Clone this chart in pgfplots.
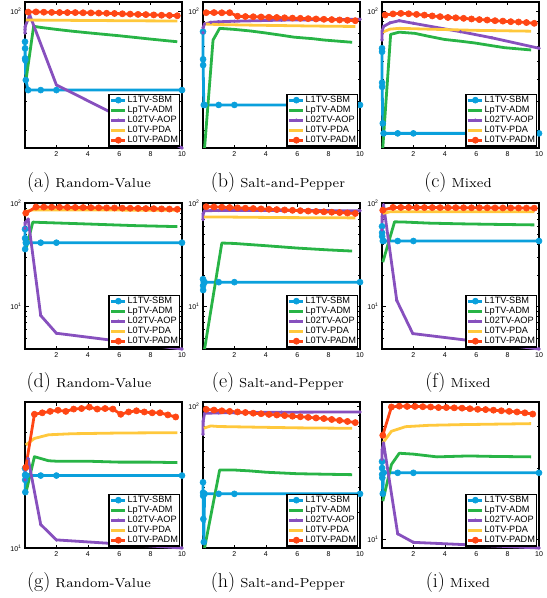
\documentclass[border=0pt]{standalone}
\usepackage{fontspec}
\usepackage{pgfplots}
\pgfplotsset{compat=1.18}
\newfontfamily\hv{Liberation Sans}
\newfontfamily\capfont{lmroman7-regular}[Extension=.otf]
\definecolor{cb}{RGB}{10,160,220}
\definecolor{cg}{RGB}{40,180,70}
\definecolor{cp}{RGB}{135,80,190}
\definecolor{cy}{RGB}{255,200,60}
\definecolor{cr}{RGB}{255,70,20}
\pgfplotsset{
  width=157pt, height=146pt, scale only axis,
  xmin=0, xmax=10, xtick={2,4,6,8,10},
  tick align=inside,
  major tick length=3.5pt, minor tick length=2pt,
  axis line style={line width=1.2pt},
  every tick/.style={black, line width=0.6pt},
  tick label style={font=\hv\fontsize{7}{8}\selectfont},
  clip=false,
  legend cell align=left,
  legend style={at={(0.99,0.01)}, anchor=south east, draw=black, line width=1.2pt,
    font=\hv\fontsize{9.2}{10}\selectfont, inner sep=1pt, row sep=0.5pt,
    nodes={inner sep=0.8pt}},
  legend image code/.code={\draw[mark repeat=2,mark phase=2] plot coordinates {(0pt,0pt) (7pt,0pt) (14pt,0pt)};},
  /pgf/number format/assume math mode=true,
}
\pgfplotsset{
  sbm/.style={color=cb, line width=2.8pt, line join=round, mark=*, mark size=3pt, mark options={line width=0.6pt}},
  adm/.style={color=cg, line width=2.8pt, line join=round, no markers},
  aop/.style={color=cp, line width=2.8pt, line join=round, mark=*, mark size=1.4pt, mark options={line width=0.6pt}},
  pda/.style={color=cy, line width=2.8pt, line join=round, no markers},
  padm/.style={color=cr, line width=2.8pt, line join=round, mark=*, mark size=3.1pt, mark options={line width=0.6pt}},
}
\newcommand{\subcap}[2]{{\fontsize{20}{22}\selectfont(#1)}\hspace{5pt}{\capfont\fontsize{13}{14}\selectfont #2}}
\newcommand{\legtxt}{\legend{L1TV-SBM,LpTV-ADM,L02TV-AOP,L0TV-PDA,L0TV-PADM}}
\begin{document}
\begin{tikzpicture}
\path[use as bounding box] (0,0) rectangle (547pt,-598pt);

% (a) Random-Value
\begin{axis}[ymode=log, log basis y=10, ytick={10,100}, minor ytick={2,3,4,5,6,7,8,9,20,30,40,50,60,70,80,90},
  yticklabel={10\textsuperscript{\pgfmathprintnumber[fixed,precision=0]{\tick}}},
  at={(25pt,-2pt)}, anchor=north west, ymin=25, ymax=110]
\addplot[sbm] coordinates {(0.001,73.5) (0.005,68.7) (0.01,62.1) (0.02,61) (0.05,49.8) (0.2,45) (1,45) (2,45) (10,45)};
\addplot[adm] coordinates {(0.05,49) (0.55,86) (1,85) (2,83.3) (3,81.8) (4,80.5) (5,79.3) (6,78.1) (7,76.8) (8,75.5) (9,74.3) (9.7,73.5)};
\addplot[aop] coordinates {(0.001,80.3) (0.005,83) (0.01,85.7) (0.3,96.4) (2,47.4) (10,25)};
\addplot[pda] coordinates {(0.05,91.6) (1,91.5) (3,91.3) (5,91.1) (7,90.9) (9.7,90.7)};
\addplot[padm] coordinates {(0.2,99.3) (0.7,99.5) (1.2,99.2) (1.7,99.0) (2.2,98.9) (2.7,98.8) (3.2,98.8) (3.7,98.6) (4.2,98.5) (4.7,98.3) (5.2,98.1) (5.7,97.9) (6.2,97.6) (6.7,97.3) (7.2,97.0) (7.7,96.8) (8.2,96.5) (8.7,96.2) (9.2,96.0) (9.7,95.7)};
\legtxt
\end{axis}

% (b) Salt-and-Pepper
\begin{axis}[ymode=log, log basis y=10, ytick={10,100}, minor ytick={2,3,4,5,6,7,8,9,20,30,40,50,60,70,80,90},
  yticklabel={10\textsuperscript{\pgfmathprintnumber[fixed,precision=0]{\tick}}},
  at={(203pt,-2pt)}, anchor=north west, ymin=25, ymax=110]
\addplot[sbm] coordinates {(0.001,81.4) (0.005,61.5) (0.01,58) (0.05,38.7) (0.1,38.7) (1,38.7) (2,38.7) (10,38.7)};
\addplot[adm] coordinates {(0.1,25) (0.64,74.8) (1.06,84.2) (2,83.3) (3,82) (3.9,80.5) (5,78.5) (5.8,77) (7,75.8) (7.7,74.8) (9.5,73.1)};
\addplot[aop] coordinates {(0.001,80.5) (0.01,85) (0.1,88) (0.5,89.5) (1,90) (2,90.5) (5,91.5) (10,92.3)};
\addplot[pda] coordinates {(0.05,88) (1,87.5) (3,87) (5,86.6) (7,86.2) (9.7,85.8)};
\addplot[padm] coordinates {(0.2,98.7) (0.7,98.8) (1.2,98.6) (1.7,98.7) (2.2,95.2) (2.7,94.9) (3.2,94.7) (3.7,94.5) (4.2,94.2) (4.7,94.0) (5.2,93.7) (5.7,93.4) (6.2,93.2) (6.7,92.9) (7.2,92.6) (7.7,92.3) (8.2,92.0) (8.7,91.7) (9.2,91.4) (9.7,91.0)};
\legtxt
\end{axis}

% (c) Mixed
\begin{axis}[ymode=log, log basis y=10, ytick={10,100}, minor ytick={2,3,4,5,6,7,8,9,20,30,40,50,60,70,80,90},
  yticklabel={10\textsuperscript{\pgfmathprintnumber[fixed,precision=0]{\tick}}},
  at={(382pt,-2pt)}, anchor=north west, ymin=25, ymax=110]
\addplot[sbm] coordinates {(0.001,68.8) (0.002,66.4) (0.005,48.5) (0.01,46.5) (0.05,32.1) (0.1,29) (1,29) (2,29) (10,29)};
\addplot[adm] coordinates {(0.05,25) (0.55,79.2) (1.1,81) (2.1,80) (3,77.6) (4,75.2) (5,73.9) (5.9,72.6) (7,70.6) (7.8,69.2) (9.5,67.6)};
\addplot[aop] coordinates {(0.001,74.8) (0.01,82) (0.1,85.8) (0.5,89) (1.1,91) (2,88.6) (5,81.4) (7,76.5) (10,68.8)};
\addplot[pda] coordinates {(0.05,81) (0.5,83.5) (1.1,84.2) (3,83.5) (6,82.5) (9.5,81.8)};
\addplot[padm] coordinates {(0.2,96.4) (0.7,97.5) (1.2,98.0) (1.7,97.6) (2.2,97.0) (2.7,96.3) (3.2,95.5) (3.7,94.8) (4.2,94.0) (4.7,93.7) (5.2,93.2) (5.7,92.6) (6.2,92.0) (6.7,91.6) (7.2,91.0) (7.7,90.6) (8.2,90.1) (8.7,89.8) (9.2,89.3) (9.7,88.6)};
\legtxt
\end{axis}

% (d) Random-Value
\begin{axis}[ymode=log, log basis y=10, ytick={10,100}, minor ytick={2,3,4,5,6,7,8,9,20,30,40,50,60,70,80,90},
  yticklabel={10\textsuperscript{\pgfmathprintnumber[fixed,precision=0]{\tick}}},
  at={(25pt,-203pt)}, anchor=north west, ymin=3.9, ymax=101]
\addplot[sbm] coordinates {(0.001,56.4) (0.005,46) (0.01,36.1) (0.05,41.7) (0.1,41.7) (1,41.7) (2,41.7) (10,41.7)};
\addplot[adm] coordinates {(0.05,35.5) (0.5,66) (1,65.5) (3,64) (5,62.5) (7,61) (9.7,59.7)};
\addplot[aop] coordinates {(0.001,57.6) (0.01,65) (0.2,70.5) (1,8.23) (2,5.54) (10,3.9)};
\addplot[pda] coordinates {(0.05,84) (0.5,86.5) (2,86.5) (5,86.3) (9.7,86)};
\addplot[padm] coordinates {(0.05,80.7) (0.7,92.3) (1.2,92.2) (1.7,92.0) (2.2,91.8) (2.7,91.6) (3.2,91.4) (3.7,91.2) (4.2,91.0) (4.7,90.8) (5.2,90.6) (5.7,90.4) (6.2,90.1) (6.7,89.9) (7.2,89.6) (7.7,89.3) (8.2,89.0) (8.7,88.6) (9.2,88.2) (9.7,87.8)};
\legtxt
\end{axis}

% (e) Salt-and-Pepper
\begin{axis}[ymode=log, log basis y=10, ytick={10,100}, minor ytick={2,3,4,5,6,7,8,9,20,30,40,50,60,70,80,90},
  yticklabel={10\textsuperscript{\pgfmathprintnumber[fixed,precision=0]{\tick}}},
  at={(203pt,-203pt)}, anchor=north west, ymin=3.9, ymax=101]
\addplot[sbm] coordinates {(0.001,18.5) (0.005,16.0) (0.01,14.5) (0.05,17.3) (0.1,17.3) (1,17.3) (2,17.3) (10,17.3)};
\addplot[adm] coordinates {(0.1,3.9) (1.2,41.4) (2,41) (4,39) (6,37) (8,35.5) (9.5,34.6)};
\addplot[aop] coordinates {(0.001,70) (0.01,80) (0.1,85) (1,85.5) (5,85.5) (10,85)};
\addplot[pda] coordinates {(0.05,74) (1,74) (5,73) (9.7,72.5)};
\addplot[padm] coordinates {(0.2,93) (0.7,92.5) (1.2,92) (1.7,91.3) (2.2,90.6) (2.7,90) (3.2,89.3) (3.7,88.6) (4.2,87.9) (4.7,87.2) (5.2,86.5) (5.7,85.8) (6.2,85.1) (6.7,84.4) (7.2,83.7) (7.7,83) (8.2,82.3) (8.7,81.6) (9.2,80.8) (9.7,80)};
\legtxt
\end{axis}

% (f) Mixed
\begin{axis}[ymode=log, log basis y=10, ytick={10,100}, minor ytick={2,3,4,5,6,7,8,9,20,30,40,50,60,70,80,90},
  yticklabel={10\textsuperscript{\pgfmathprintnumber[fixed,precision=0]{\tick}}},
  at={(382pt,-203pt)}, anchor=north west, ymin=3.9, ymax=101]
\addplot[sbm] coordinates {(0.001,60) (0.005,52) (0.01,48) (0.05,43.3) (0.1,43.3) (1,43.3) (2,43.3) (10,43.3)};
\addplot[adm] coordinates {(0.05,27) (0.8,66.4) (1.5,66) (3,64.5) (5,63.5) (7,62.8) (9.7,62)};
\addplot[aop] coordinates {(0.001,55.5) (0.01,75) (0.1,97) (0.94,11.5) (1.96,5.5) (10,3.9)};
\addplot[pda] coordinates {(0.05,80) (0.5,83) (3,83.2) (9.7,83)};
\addplot[padm] coordinates {(0.05,86) (0.7,91.5) (1.2,91.4) (1.7,91.4) (2.2,91.3) (2.7,91.2) (3.2,91.2) (3.7,91.1) (4.2,91.0) (4.7,91.0) (5.2,90.9) (5.7,90.8) (6.2,90.8) (6.7,90.7) (7.2,90.6) (7.7,90.5) (8.2,90.4) (8.7,90.3) (9.2,90.2) (9.7,90.1)};
\legtxt
\end{axis}

% (g) Random-Value
\begin{axis}[ymode=log, log basis y=10, ytick={10,100}, minor ytick={2,3,4,5,6,7,8,9,20,30,40,50,60,70,80,90},
  yticklabel={10\textsuperscript{\pgfmathprintnumber[fixed,precision=0]{\tick}}},
  at={(25pt,-402pt)}, anchor=north west, ymin=10, ymax=40]
\addplot[sbm] coordinates {(0.001,21.3) (0.005,20) (0.01,19.1) (0.02,17) (0.1,19.9) (1,19.9) (2,19.9) (10,19.9)};
\addplot[adm] coordinates {(0.05,16.8) (0.6,23.8) (1.5,22.9) (2,22.8) (4,22.8) (6,22.6) (8,22.6) (9.7,22.5)};
\addplot[aop] coordinates {(0.001,19.1) (0.01,21) (0.2,23.4) (1,12.5) (2,10.8) (10,10)};
\addplot[pda] coordinates {(0.05,26.6) (0.6,28.3) (1.5,29.3) (3,29.6) (6,29.8) (9.7,29.9)};
\addplot[padm] coordinates {(0.05,21.5) (0.6,35.6) (1.1,36.1) (1.6,36.6) (2.1,37.0) (2.6,36.6) (3.1,37.4) (3.6,37.6) (4.1,38.1) (4.6,37.4) (5.1,37.6) (5.6,37.4) (6.1,35.6) (6.6,36.4) (7.1,36.8) (7.6,36.4) (8.1,36.1) (8.6,36.1) (9.1,35.4) (9.6,34.7)};
\legtxt
\end{axis}

% (h) Salt-and-Pepper
\begin{axis}[ymode=log, log basis y=10, ytick={10,100}, minor ytick={2,3,4,5,6,7,8,9,20,30,40,50,60,70,80,90},
  yticklabel={10\textsuperscript{\pgfmathprintnumber[fixed,precision=0]{\tick}}},
  at={(203pt,-402pt)}, anchor=north west, ymin=20, ymax=105]
\addplot[sbm] coordinates {(0.001,42.2) (0.005,37.5) (0.01,36.2) (0.02,27.8) (0.05,21.4) (0.1,37) (1,37) (2,37) (10,37)};
\addplot[adm] coordinates {(0.1,20) (1.06,48.5) (2,48.5) (3,48) (4,47.3) (5,46.9) (6,46.5) (8,46.2) (9.5,46)};
\addplot[aop] coordinates {(0.001,72.8) (0.01,84.5) (0.1,92.3) (1,92.8) (2,93) (5,93.5) (10,93.8)};
\addplot[pda] coordinates {(0.05,78) (0.5,80) (1,79.5) (3,79) (6,78.3) (9.5,77.9)};
\addplot[padm] coordinates {(0.2,96.6) (0.7,95.8) (1.2,95.0) (1.7,94.4) (2.2,93.8) (2.7,93.2) (3.2,92.5) (3.7,91.9) (4.2,91.2) (4.7,90.6) (5.2,90.0) (5.7,89.4) (6.2,88.8) (6.7,88.2) (7.2,87.6) (7.7,87.0) (8.2,86.1) (8.7,85.2) (9.2,84.2) (9.7,83.1)};
\legtxt
\end{axis}

% (i) Mixed
\begin{axis}[ymode=log, log basis y=10, ytick={10,100}, minor ytick={2,3,4,5,6,7,8,9,20,30,40,50,60,70,80,90},
  yticklabel={10\textsuperscript{\pgfmathprintnumber[fixed,precision=0]{\tick}}},
  at={(382pt,-402pt)}, anchor=north west, ymin=9.2, ymax=38]
\addplot[sbm] coordinates {(0.001,21.3) (0.005,20) (0.01,18.8) (0.02,18.2) (0.05,15.6) (0.1,19.1) (1,19.1) (2,19.1) (10,19.1)};
\addplot[adm] coordinates {(0.05,14.5) (0.6,20.7) (1.1,23.1) (2,22.9) (3.5,22.3) (5.5,22.5) (7,22.4) (9.5,22.3)};
\addplot[aop] coordinates {(0.001,21.8) (0.01,23.9) (0.1,25.5) (1,10.56) (2,9.72) (10,9.2)};
\addplot[pda] coordinates {(0.05,25.5) (0.6,28.6) (1.5,29.9) (3,30.3) (5,30.5) (9.5,30.8)};
\addplot[padm] coordinates {(0.05,27.5) (0.6,36.2) (1.1,36.5) (1.6,36.4) (2.1,36.4) (2.6,36.3) (3.1,36.2) (3.6,36.0) (4.1,36.0) (4.6,35.9) (5.1,35.8) (5.6,35.6) (6.1,35.4) (6.6,35.3) (7.1,35.1) (7.6,34.9) (8.1,34.7) (8.6,34.5) (9.1,34.2) (9.6,33.8)};
\legtxt
\end{axis}

\node[anchor=base] at (89pt,-187pt) {\subcap{a}{Random-Value}};
\node[anchor=base] at (278pt,-187pt) {\subcap{b}{Salt-and-Pepper}};
\node[anchor=base] at (458pt,-187pt) {\subcap{c}{Mixed}};
\node[anchor=base] at (89pt,-387pt) {\subcap{d}{Random-Value}};
\node[anchor=base] at (278pt,-387pt) {\subcap{e}{Salt-and-Pepper}};
\node[anchor=base] at (458pt,-387pt) {\subcap{f}{Mixed}};
\node[anchor=base] at (89pt,-587pt) {\subcap{g}{Random-Value}};
\node[anchor=base] at (278pt,-587pt) {\subcap{h}{Salt-and-Pepper}};
\node[anchor=base] at (458pt,-587pt) {\subcap{i}{Mixed}};
\end{tikzpicture}
\end{document}
